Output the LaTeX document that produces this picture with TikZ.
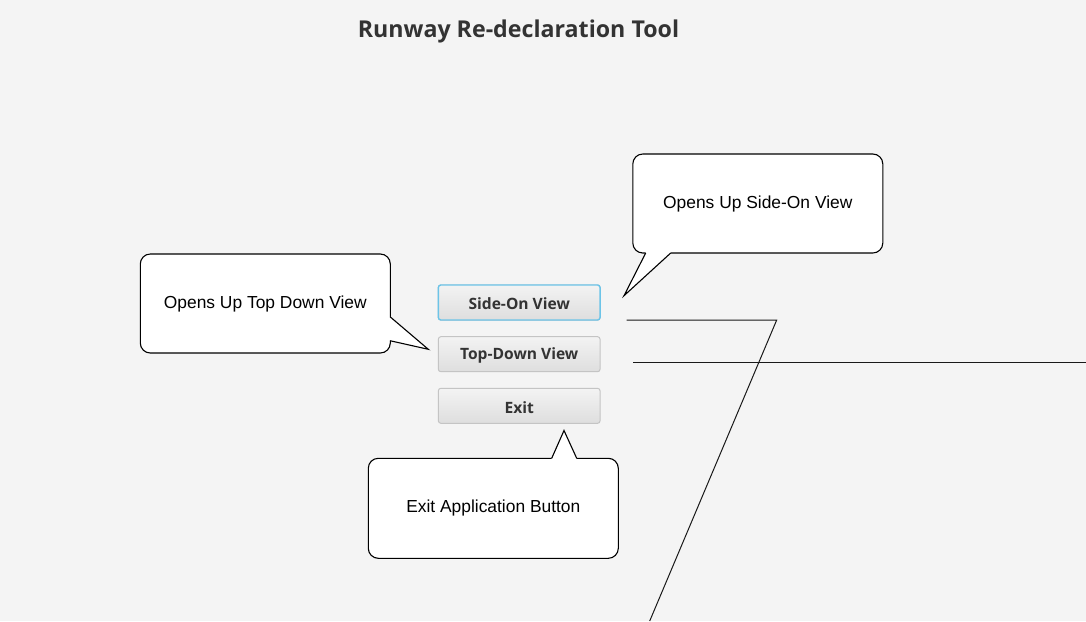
\documentclass[tikz,border=0pt]{standalone}
\usepackage{fontspec}
\setmainfont{Liberation Sans}
\newfontfamily\uifont{Open Sans}
\definecolor{bg}{HTML}{F4F4F4}
\definecolor{uitext}{HTML}{333333}
\definecolor{btnborder}{HTML}{C4C4C4}
\definecolor{focusborder}{HTML}{6CC4E8}
\definecolor{btntop}{HTML}{F3F3F3}
\definecolor{btnbot}{HTML}{DEDEDE}
\tikzset{
  btn/.style={draw=btnborder, line width=1pt, rounded corners=2.5pt,
    top color=btntop, bottom color=btnbot, minimum width=161.7pt,
    minimum height=35pt, inner sep=0pt, text=uitext,
    font=\uifont\bfseries\fontsize{15.6}{18}\selectfont},
  btntext/.style={text=uitext, inner sep=0pt,
    font=\uifont\bfseries\fontsize{15.6}{18}\selectfont},
  callout/.style={draw=black, line width=1.1pt, fill=white, rounded corners=10pt,
    minimum width=250pt, minimum height=99pt, inner sep=0pt,
    font=\fontsize{17.4}{20}\selectfont},
  tailfill/.style={fill=white},
  tailline/.style={draw=black, line width=1.1pt, line join=miter},
  conn/.style={draw=black!90, line width=1pt}
}
\begin{document}
\begin{tikzpicture}[x=1pt,y=-1pt]
\fill[bg] (0,0) rectangle (1086,621);
\useasboundingbox (0,0) rectangle (1086,621);

\node[text=uitext, font=\uifont\bfseries\fontsize{23.2}{27}\selectfont] (title) at (518.5,31.5) {Runway Re-declaration Tool};

\node[btn] (side) at (519.2,302.5) {};
\node[btn, draw=focusborder, line width=1.4pt] at (519.2,302.5) {};
\node[btntext] at (519.2,304) {Side-On View};
\node[btn] (top) at (519.2,354.2) {};
\node[btntext] at (519.2,355.7) {Top-Down View};
\node[btn] (exit) at (519.2,405.8) {};
\node[btntext] at (519.2,407.3) {Exit};

% callouts
\node[callout] (lc) at (265.3,303.5) {Opens Up Top Down View};
\node[callout] (rc) at (757.8,203.5) {Opens Up Side-On View};
\node[callout, minimum height=100pt] (ec) at (493.3,508.3) {Exit Application Button};

% tails
\coordinate (lt1) at (390,316.7);
\coordinate (ltip) at (428.3,349.3);
\coordinate (lt2) at (390,340.7);
\fill[tailfill] (388,316.7) -- (lt1) -- (ltip) -- (lt2) -- (388,340.7) -- cycle;
\draw[tailline] (lt1) -- (ltip) -- (lt2);

\coordinate (rt1) at (645.7,253);
\coordinate (rtip) at (624,295.7);
\coordinate (rt2) at (670.7,253);
\fill[tailfill] (645.7,251) -- (rt1) -- (rtip) -- (rt2) -- (670.7,251) -- cycle;
\draw[tailline] (rt1) -- (rtip) -- (rt2);

\coordinate (et1) at (551.7,458.3);
\coordinate (etip) at (564,430.5);
\coordinate (et2) at (576.7,458.3);
\fill[tailfill] (551.7,460.3) -- (et1) -- (etip) -- (et2) -- (576.7,460.3) -- cycle;
\draw[tailline] (et1) -- (etip) -- (et2);

% connectors
\coordinate (c1a) at (626.7,320);
\coordinate (c1b) at (776.7,320);
\coordinate (c1c) at (649.7,621);
\coordinate (c2a) at (633,362);
\coordinate (c2b) at (1086,362);
\draw[conn] (c1a) -- (c1b) -- (c1c);
\draw[conn] (c2a) -- (c2b);
\end{tikzpicture}
\end{document}
